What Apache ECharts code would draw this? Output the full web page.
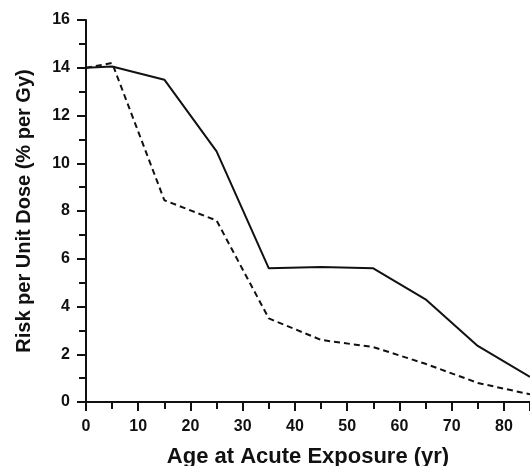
<!DOCTYPE html>
<html><head><meta charset="utf-8">
<script src="https://cdn.jsdelivr.net/npm/echarts@6/dist/echarts.min.js"></script>
<style>html,body{margin:0;padding:0;background:#fff}#c{width:530px;height:466px}</style>
</head><body><div id="c"></div>
<script>
const ages = [0, 5, 15, 25, 35, 45, 55, 65, 75, 85];
const solidRisk = [14.0, 14.05, 13.5, 10.5, 5.6, 5.65, 5.6, 4.3, 2.35, 1.05];
const dashedAges = [0, 5, 15, 25, 35, 45, 55, 65, 75, 85];
const dashedRisk = [14.0, 14.2, 8.45, 7.6, 3.5, 2.6, 2.3, 1.6, 0.8, 0.32];
const xTitle = 'Age at Acute Exposure (yr)';
const yTitle = 'Risk per Unit Dose (% per Gy)';

const chart = echarts.init(document.getElementById('c'), null, {renderer: 'canvas'});
const font = 'Liberation Sans, Arial, sans-serif';
chart.setOption({
  animation: false,
  backgroundColor: '#fff',
  grid: {left: 86, top: 20, right: 0, bottom: 64, containLabel: false, outerBoundsMode: 'none'},
  xAxis: {
    type: 'value', min: 0, max: 85, interval: 10,
    name: xTitle, nameLocation: 'middle', nameGap: 44,
    nameTextStyle: {fontFamily: font, fontWeight: 'bold', fontSize: 22, color: '#111'},
    axisLine: {onZero: false, lineStyle: {color: '#111', width: 2}},
    axisTick: {show: true, inside: false, length: 9, lineStyle: {color: '#111', width: 2}},
    minorTick: {show: true, splitNumber: 2, length: 7, lineStyle: {color: '#111', width: 2}},
    axisLabel: {fontFamily: font, fontWeight: 'bold', fontSize: 16, color: '#111', margin: 17,
      showMaxLabel: false},
    splitLine: {show: false}
  },
  yAxis: {
    type: 'value', min: 0, max: 16, interval: 2,
    name: yTitle, nameLocation: 'middle', nameGap: 52,
    nameTextStyle: {fontFamily: font, fontWeight: 'bold', fontSize: 20, color: '#111'},
    axisLine: {show: true, lineStyle: {color: '#111', width: 2}},
    axisTick: {show: true, inside: false, length: 9, lineStyle: {color: '#111', width: 2}},
    minorTick: {show: true, splitNumber: 2, length: 7, lineStyle: {color: '#111', width: 2}},
    axisLabel: {fontFamily: font, fontWeight: 'bold', fontSize: 16, color: '#111', margin: 16},
    splitLine: {show: false}
  },
  series: [
    {type: 'line', data: ages.map((a, i) => [a, solidRisk[i]]), showSymbol: false,
     lineStyle: {color: '#111', width: 2, type: 'solid'}},
    {type: 'line', data: dashedAges.map((a, i) => [a, dashedRisk[i]]), showSymbol: false,
     lineStyle: {color: '#111', width: 2, type: [6, 4]}}
  ]
});
</script></body></html>
